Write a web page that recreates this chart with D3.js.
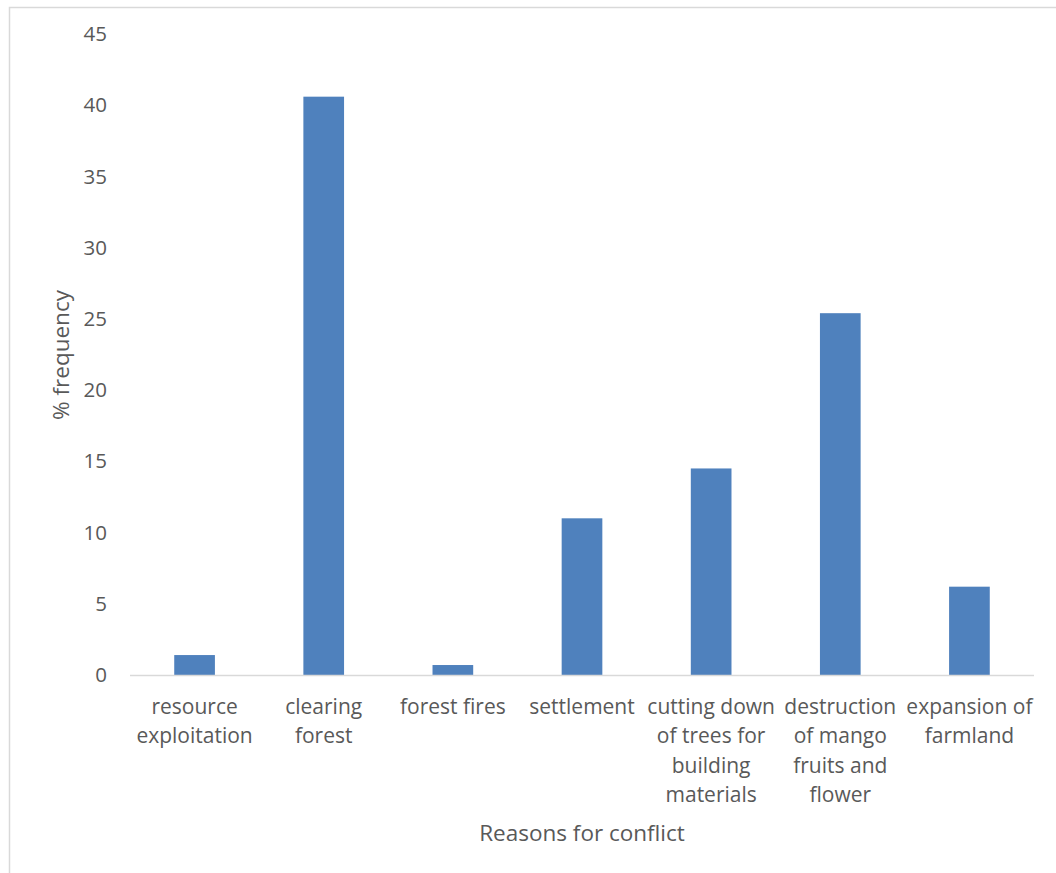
<!DOCTYPE html>
<html>
<head>
<meta charset="utf-8">
<script src="https://cdn.jsdelivr.net/npm/d3@7"></script>
<style>
  html, body { margin: 0; padding: 0; background: #fff; }
  svg { display: block; }
  text { font-family: "Open Sans", "Liberation Sans", sans-serif; fill: #595959; }
</style>
</head>
<body>
<svg id="chart" width="1056" height="873"></svg>
<script>
// Reasons for conflict (category labels, split into display lines)
const categories = [
  "resource exploitation",
  "clearing forest",
  "forest fires",
  "settlement",
  "cutting down of trees for building materials",
  "destruction of mango fruits and flower",
  "expansion of farmland"
];
const categoryLines = [
  ["resource", "exploitation"],
  ["clearing", "forest"],
  ["forest fires"],
  ["settlement"],
  ["cutting down", "of trees for", "building", "materials"],
  ["destruction", "of mango", "fruits and", "flower"],
  ["expansion of", "farmland"]
];
// % frequency per reason
const frequency = [1.4, 40.6, 0.7, 11.0, 14.5, 25.4, 6.2];
const yTicks = [0, 5, 10, 15, 20, 25, 30, 35, 40, 45];

const svg = d3.select("#chart");
const W = 1056, H = 873;

// outer chart frame
svg.append("rect")
  .attr("x", 9.5).attr("y", 7.5)
  .attr("width", W + 20).attr("height", H + 20)
  .attr("fill", "#fff")
  .attr("stroke", "#d9d9d9")
  .attr("stroke-width", 1.5);

const plot = { left: 130, right: 1034, top: 34, bottom: 675 };

const x = d3.scaleBand()
  .domain(categories)
  .range([plot.left, plot.right])
  .paddingInner(0.685)
  .paddingOuter(0.3425);

const y = d3.scaleLinear()
  .domain([0, 45])
  .range([plot.bottom, plot.top]);

// y tick labels (no gridlines, no axis line)
const yAxis = d3.axisLeft(y).tickValues(yTicks).tickSize(0).tickPadding(0);
const gy = svg.append("g")
  .attr("transform", "translate(107,0)")
  .call(yAxis);
gy.select(".domain").remove();
gy.selectAll("text")
  .attr("font-size", 20.5)
  .attr("fill", "#595959")
  .style("font-family", "\"Open Sans\", sans-serif");

// bars
svg.append("g").selectAll("rect")
  .data(frequency)
  .join("rect")
  .attr("x", (d, i) => x(categories[i]))
  .attr("y", d => y(d))
  .attr("width", x.bandwidth())
  .attr("height", d => y(0) - y(d))
  .attr("fill", "#4f81bd");

// category axis line
svg.append("line")
  .attr("x1", plot.left).attr("x2", plot.right)
  .attr("y1", y(0) + 0.5).attr("y2", y(0) + 0.5)
  .attr("stroke", "#d9d9d9")
  .attr("stroke-width", 1.5);

// category labels
const gx = svg.append("g");
categories.forEach((c, i) => {
  const cx = x(c) + x.bandwidth() / 2;
  const t = gx.append("text")
    .attr("text-anchor", "middle")
    .attr("font-size", 21);
  categoryLines[i].forEach((line, j) => {
    t.append("tspan")
      .attr("x", cx)
      .attr("y", 714 + j * 29.3)
      .text(line);
  });
});

// axis titles
svg.append("text")
  .attr("x", 582)
  .attr("y", 841)
  .attr("text-anchor", "middle")
  .attr("font-size", 22.5)
  .text("Reasons for conflict");

svg.append("text")
  .attr("transform", "translate(69,355) rotate(-90)")
  .attr("text-anchor", "middle")
  .attr("font-size", 22.5)
  .text("% frequency");
</script>
</body>
</html>
